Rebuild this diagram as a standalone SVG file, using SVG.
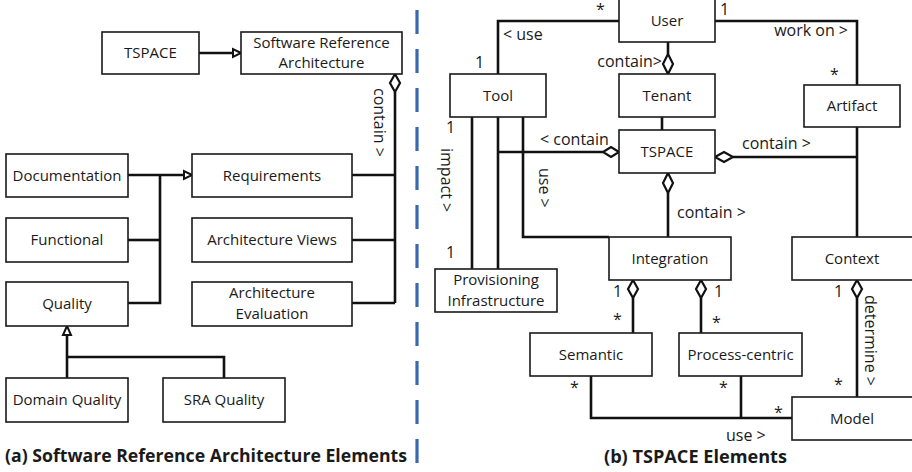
<svg xmlns="http://www.w3.org/2000/svg" width="912" height="472" viewBox="0 0 912 472">
  <style>
    .box { fill: #ffffff; stroke: #1a1a1a; stroke-width: 1.6; }
    .lbl { font-family: "Open Sans", "Noto Sans", "Liberation Sans", sans-serif; font-size: 15px; fill: #1a1a1a; text-anchor: middle; }
    .note { font-family: "Open Sans", "Noto Sans", "Liberation Sans", sans-serif; font-size: 16px; fill: #1a1a1a; }
    .cap { font-family: "Open Sans", "Noto Sans", "Liberation Sans", sans-serif; font-size: 17px; font-weight: bold; fill: #1a1a1a; }
    .ln { fill: none; stroke: #111111; stroke-width: 2.6; }
    .dia { fill: #ffffff; stroke: #111111; stroke-width: 2.2; }
    .tri { fill: #ffffff; stroke: #111111; stroke-width: 2; }
  </style>

  <!-- divider between the two panels -->
  <line x1="417" y1="10" x2="417" y2="466" stroke="#3a68b0" stroke-width="3.2" stroke-dasharray="24 15"/>

  <!-- ===== (a) left panel connectors ===== -->
  <g id="connectors-a">
    <line class="ln" x1="199" y1="53" x2="233" y2="53"/>
    <polygon class="tri" points="241,53 233,49 233,57"/>
    <polyline class="ln" points="395,92 395,303"/>
    <polygon class="dia" points="395,74 400,83 395,92 390,83"/>
    <line class="ln" x1="352" y1="175" x2="395" y2="175"/>
    <line class="ln" x1="352" y1="240" x2="395" y2="240"/>
    <line class="ln" x1="352" y1="303" x2="395" y2="303"/>
    <line class="ln" x1="128" y1="175" x2="184" y2="175"/>
    <polygon class="tri" points="192,175 184,171 184,179"/>
    <polyline class="ln" points="160,175 160,303 128,303"/>
    <line class="ln" x1="128" y1="240" x2="160" y2="240"/>
    <polyline class="ln" points="67,378 67,335"/>
    <polygon class="tri" points="67,326 63,335 71,335"/>
    <polyline class="ln" points="67,357 224,357 224,378"/>
    <text class="note" transform="translate(374,88) rotate(90)">contain &gt;</text>
  </g>

  <!-- ===== (a) left panel nodes ===== -->
  <g id="a-tspace"><rect class="box" x="102" y="32" width="97" height="42"/><text class="lbl" x="150.5" y="58">TSPACE</text></g>
  <g id="a-sra"><rect class="box" x="241" y="32" width="161" height="42"/><text class="lbl" x="321.5" y="48">Software Reference</text><text class="lbl" x="321.5" y="68">Architecture</text></g>
  <g id="a-documentation"><rect class="box" x="6" y="154" width="122" height="43"/><text class="lbl" x="67" y="181">Documentation</text></g>
  <g id="a-requirements"><rect class="box" x="192" y="154" width="160" height="43"/><text class="lbl" x="272" y="181">Requirements</text></g>
  <g id="a-functional"><rect class="box" x="6" y="218" width="122" height="44"/><text class="lbl" x="67" y="245">Functional</text></g>
  <g id="a-views"><rect class="box" x="192" y="218" width="160" height="44"/><text class="lbl" x="272" y="245">Architecture Views</text></g>
  <g id="a-quality"><rect class="box" x="6" y="282" width="122" height="44"/><text class="lbl" x="67" y="309">Quality</text></g>
  <g id="a-evaluation"><rect class="box" x="192" y="282" width="160" height="44"/><text class="lbl" x="272" y="298">Architecture</text><text class="lbl" x="272" y="319">Evaluation</text></g>
  <g id="a-domain-quality"><rect class="box" x="6" y="378" width="122" height="44"/><text class="lbl" x="67" y="405">Domain Quality</text></g>
  <g id="a-sra-quality"><rect class="box" x="163" y="378" width="122" height="44"/><text class="lbl" x="224" y="405">SRA Quality</text></g>

  <text class="cap" x="5" y="462" textLength="402" lengthAdjust="spacingAndGlyphs">(a) Software Reference Architecture Elements</text>

  <!-- ===== (b) right panel connectors ===== -->
  <g id="connectors-b">
    <!-- User - Tool -->
    <polyline class="ln" points="619,21 498,21 498,74"/>
    <text class="note" x="503" y="40">&lt; use</text>
    <text class="note" x="596" y="15">*</text>
    <text class="note" x="475" y="68">1</text>
    <!-- User - Artifact -->
    <polyline class="ln" points="715,21 857,21 857,85"/>
    <text class="note" x="848" y="36" text-anchor="end">work on &gt;</text>
    <text class="note" x="720" y="15">1</text>
    <text class="note" x="830" y="80">*</text>
    <!-- User - Tenant -->
    <line class="ln" x1="668" y1="42" x2="668" y2="54"/>
    <polygon class="dia" points="668,54 673,64 668,74 663,64"/>
    <text class="note" x="662" y="67" text-anchor="end">contain&gt;</text>
    <!-- Tenant - TSPACE -->
    <line class="ln" x1="662" y1="117" x2="662" y2="130"/>
    <!-- Tool - TSPACE -->
    <line class="ln" x1="498" y1="152" x2="603" y2="152"/>
    <polygon class="dia" points="619,152 611,147 603,152 611,157"/>
    <text class="note" x="540" y="145">&lt; contain</text>
    <!-- Tool - Provisioning -->
    <line class="ln" x1="472" y1="117" x2="472" y2="269"/>
    <line class="ln" x1="498" y1="117" x2="498" y2="269"/>
    <text class="note" x="446" y="133">1</text>
    <text class="note" x="446" y="258">1</text>
    <text class="note" transform="translate(441,148) rotate(90)">impact &gt;</text>
    <!-- Tool - Integration -->
    <polyline class="ln" points="523,117 523,237 609,237"/>
    <text class="note" transform="translate(539,168) rotate(90)">use &gt;</text>
    <!-- TSPACE - Integration -->
    <line class="ln" x1="668" y1="193" x2="668" y2="237"/>
    <polygon class="dia" points="668,173 673,183 668,193 663,183"/>
    <text class="note" x="677" y="218">contain &gt;</text>
    <!-- TSPACE - Artifact/Context -->
    <line class="ln" x1="733" y1="157" x2="857" y2="157"/>
    <polygon class="dia" points="715,157 724,152 733,157 724,162"/>
    <text class="note" x="742" y="149">contain &gt;</text>
    <line class="ln" x1="857" y1="127" x2="857" y2="237"/>
    <!-- Integration - Semantic / Process-centric -->
    <line class="ln" x1="633" y1="298" x2="633" y2="333"/>
    <polygon class="dia" points="633,280 638,289 633,298 628,289"/>
    <text class="note" x="613" y="297">1</text>
    <text class="note" x="613" y="325">*</text>
    <line class="ln" x1="701" y1="298" x2="701" y2="333"/>
    <polygon class="dia" points="701,280 706,289 701,298 696,289"/>
    <text class="note" x="714" y="297">1</text>
    <text class="note" x="712" y="328">*</text>
    <!-- Context - Model -->
    <line class="ln" x1="857" y1="298" x2="857" y2="397"/>
    <polygon class="dia" points="857,280 862,289 857,298 852,289"/>
    <text class="note" x="834" y="297">1</text>
    <text class="note" x="834" y="390">*</text>
    <text class="note" transform="translate(865,295) rotate(90)">determine &gt;</text>
    <!-- Semantic / Process-centric - Model -->
    <polyline class="ln" points="591,376 591,418 792,418"/>
    <line class="ln" x1="741" y1="376" x2="741" y2="418"/>
    <text class="note" x="570" y="393">*</text>
    <text class="note" x="719" y="393">*</text>
    <text class="note" x="774" y="418">*</text>
    <text class="note" x="726" y="441">use &gt;</text>
  </g>

  <!-- ===== (b) right panel nodes ===== -->
  <g id="b-user"><rect class="box" x="619" y="-2" width="96" height="44"/><text class="lbl" x="667" y="26">User</text></g>
  <g id="b-tool"><rect class="box" x="450" y="74" width="96" height="43"/><text class="lbl" x="498" y="101">Tool</text></g>
  <g id="b-tenant"><rect class="box" x="619" y="74" width="96" height="43"/><text class="lbl" x="667" y="101">Tenant</text></g>
  <g id="b-artifact"><rect class="box" x="804" y="85" width="96" height="42"/><text class="lbl" x="852" y="111">Artifact</text></g>
  <g id="b-tspace"><rect class="box" x="619" y="130" width="96" height="43"/><text class="lbl" x="667" y="157">TSPACE</text></g>
  <g id="b-provisioning"><rect class="box" x="435" y="269" width="122" height="43"/><text class="lbl" x="496" y="285">Provisioning</text><text class="lbl" x="496" y="306">Infrastructure</text></g>
  <g id="b-integration"><rect class="box" x="609" y="237" width="122" height="43"/><text class="lbl" x="670" y="264">Integration</text></g>
  <g id="b-context"><rect class="box" x="792" y="237" width="125" height="43"/><text class="lbl" x="852" y="264">Context</text></g>
  <g id="b-semantic"><rect class="box" x="530" y="333" width="122" height="43"/><text class="lbl" x="591" y="360">Semantic</text></g>
  <g id="b-process-centric"><rect class="box" x="679" y="333" width="123" height="43"/><text class="lbl" x="740.5" y="360">Process-centric</text></g>
  <g id="b-model"><rect class="box" x="792" y="397" width="125" height="43"/><text class="lbl" x="852" y="424">Model</text></g>

  <text class="cap" x="604" y="463" textLength="183" lengthAdjust="spacingAndGlyphs">(b) TSPACE Elements</text>
</svg>
